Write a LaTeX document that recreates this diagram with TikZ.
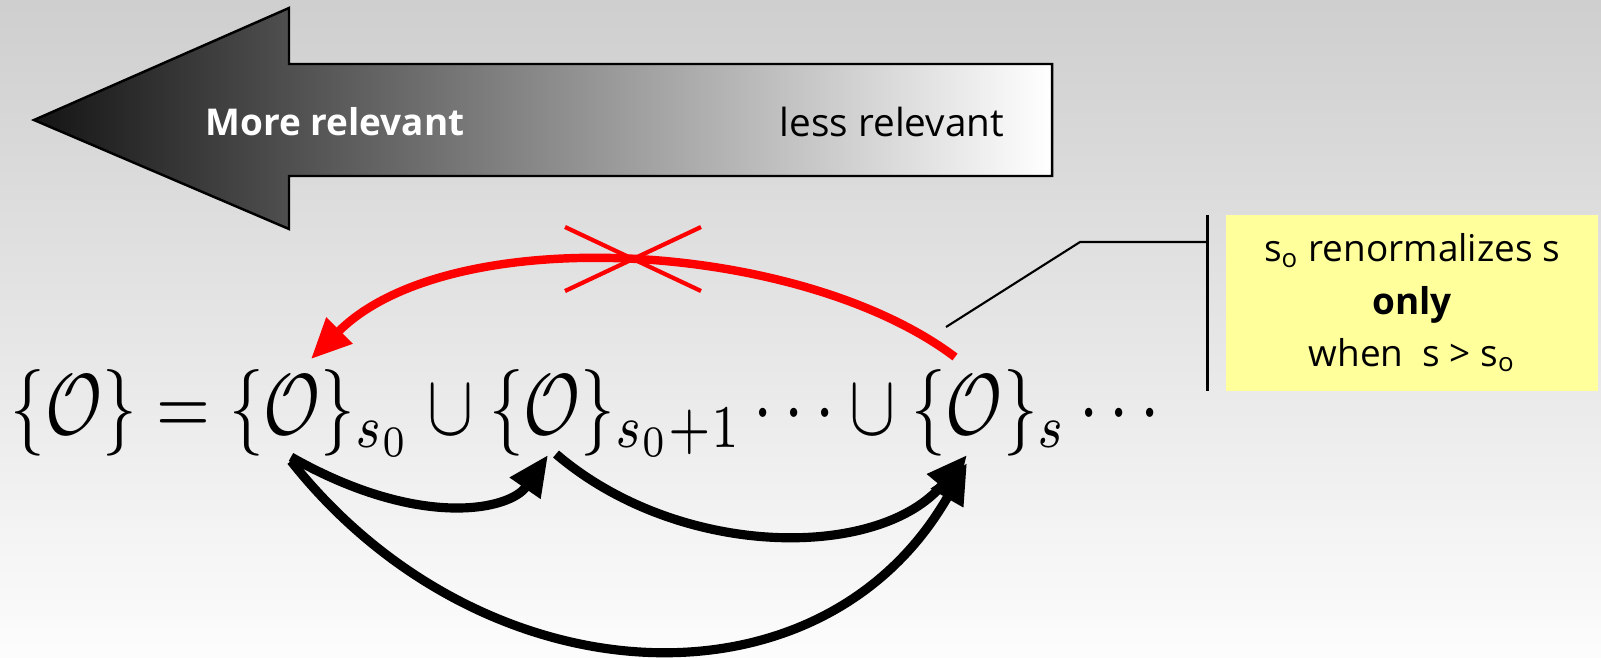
\documentclass[tikz,border=0pt]{standalone}
\usepackage[no-math]{fontspec}
\setmainfont{Open Sans}
\usepackage{amsmath}
\usepackage{graphicx}
\usetikzlibrary{arrows.meta,positioning,calc}
\definecolor{notefill}{HTML}{FFFF9C}
\definecolor{vetored}{HTML}{FF0000}

\begin{document}
\begin{tikzpicture}[
  x=0.01cm, y=-0.01cm,
  bigarrow/.style={draw=black, line width=0.7pt, left color=black!92,
                   middle color=black!24, right color=white},
  arrowlbl/.style={font=\fontsize{11}{12}\selectfont, inner sep=0pt},
  flow/.style={-{Triangle[length=11.5pt,width=10pt]}, line width=2.6pt},
  vetoflow/.style={flow, draw=vetored, line width=2.4pt},
  crossline/.style={draw=vetored, line width=1.2pt},
  notebox/.style={fill=notefill, minimum width=3.72cm, minimum height=1.75cm,
                  align=center, font=\fontsize{10.5}{14.8}\selectfont},
  leader/.style={draw=black, line width=0.6pt}
]
  % background
  \path[use as bounding box, top color=black!19, bottom color=black!1]
    (0,0) rectangle (1601,657);

  % relevance arrow
  \draw[bigarrow] (34,120) -- (289,8) -- (289,64) -- (1052,64)
    -- (1052,176) -- (289,176) -- (289,229) -- cycle;
  \node[arrowlbl, text=white, font=\bfseries\fontsize{10.5}{12}\selectfont]
    (more) at (335,122) {More relevant};
  \node[arrowlbl] (less) at (892,122) {less relevant};

  % formula
  \node[anchor=west, inner sep=0pt] (formula) at (10,413)
    {\scalebox{1}[1.25]{\resizebox{11.6cm}{!}{$\{\mathcal{O}\} = \{\mathcal{O}\}_{s_0} \cup
      \{\mathcal{O}\}_{s_0+1} \cdots \cup \{\mathcal{O}\}_s \cdots$}}};

  % anchors on the terms
  \coordinate (s0top) at (311,359);
  \coordinate (stop) at (955,357);
  \coordinate (s0bot) at (291,457);
  \coordinate (s0botb) at (291,461);
  \coordinate (s1bot) at (548,455);
  \coordinate (s1src) at (556,454);
  \coordinate (sbot) at (967,455);
  \coordinate (sbotb) at (967,463);

  % forbidden backward step
  \draw[vetoflow] (stop) .. controls (800,240) and (450,220) .. (s0top);
  \coordinate (veto) at (633,259);
  \draw[crossline] ($(veto)+(-68,-32)$) -- ($(veto)+(68,32)$);
  \draw[crossline] ($(veto)+(-68,32)$) -- ($(veto)+(68,-32)$);

  % forward steps
  \draw[flow] (s0bot) .. controls (420,530) and (510,510) .. (s1bot);
  \draw[flow] (s1src) .. controls (680,560) and (880,560) .. (sbot);
  \draw[flow] (s0botb) .. controls (480,700) and (820,720) .. (sbotb);

  % note
  \node[notebox] (note) at (1412,303)
    {s\textsubscript{o} renormalizes s\\ \textbf{only}\\ when~~s > s\textsubscript{o}};
  \coordinate (bartop) at ([xshift=-0.18cm]note.north west);
  \coordinate (barbot) at ([xshift=-0.18cm]note.south west);
  \draw[leader, line width=0.8pt] (bartop) -- (barbot);
  \coordinate (leadstart) at (946,327);
  \coordinate (leadbend) at (1080,242);
  \draw[leader] (leadstart) -- (leadbend) -- (leadbend -| bartop);
\end{tikzpicture}
\end{document}
